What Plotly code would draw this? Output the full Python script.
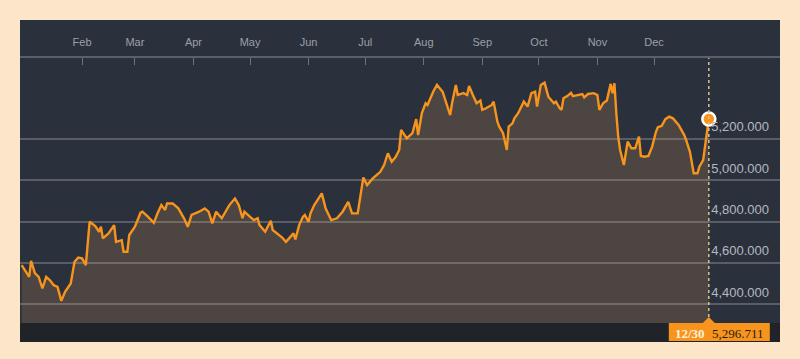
import pandas as pd
import plotly.graph_objects as go

# ---- data ----
year_start = "2015-01-01"
days = [-1, 3, 4, 6, 8, 10, 12, 14, 16, 18,
        20, 22, 25, 27, 29, 31, 33, 35, 38, 40,
        41, 42, 45, 48, 49, 52, 53, 55, 56, 59,
        62, 63, 66, 69, 71, 73, 75, 76, 79, 82,
        85, 87, 89, 93, 96, 98, 100, 102, 105, 108,
        109, 112, 114, 116, 117, 120, 122, 124, 125, 128,
        131, 132, 135, 137, 139, 141, 143, 144, 146, 148,
        149, 151, 152, 154, 158, 160, 163, 166, 169, 172,
        174, 177, 180, 182, 185, 189, 191, 193, 195, 197,
        199, 200, 203, 206, 208, 209, 211, 213, 214, 217,
        219, 222, 224, 226, 227, 229, 230, 233, 235, 236,
        238, 240, 242, 243, 245, 248, 249, 251, 252, 254,
        256, 257, 259, 260, 262, 265, 267, 269, 271, 272,
        274, 276, 278, 281, 282, 284, 285, 286, 288, 290,
        291, 293, 296, 297, 299, 302, 304, 305, 307, 309,
        311, 312, 313, 314, 315, 316, 318, 320, 322, 324,
        326, 327, 329, 331, 333, 335, 336, 338, 340, 342,
        344, 347, 350, 351, 353, 355, 357, 358, 360, 363]

values = [4589000, 4532000, 4610000, 4550000, 4532000, 4476000, 4532000, 4516000, 4492000, 4484000,
          4416000, 4460000, 4500000, 4605000, 4626000, 4622000, 4589000, 4799000, 4778000, 4751000,
          4775000, 4719000, 4743000, 4783000, 4702000, 4710000, 4654000, 4654000, 4735000, 4775000,
          4843000, 4848000, 4823000, 4794000, 4840000, 4880000, 4856000, 4888000, 4888000, 4864000,
          4816000, 4775000, 4832000, 4848000, 4864000, 4848000, 4791000, 4848000, 4816000, 4864000,
          4880000, 4912000, 4880000, 4816000, 4848000, 4823000, 4807000, 4816000, 4783000, 4751000,
          4804000, 4759000, 4735000, 4723000, 4702000, 4723000, 4743000, 4714000, 4783000, 4823000,
          4832000, 4799000, 4840000, 4880000, 4937000, 4864000, 4807000, 4816000, 4848000, 4896000,
          4840000, 4840000, 5014000, 4977000, 5009000, 5041000, 5074000, 5131000, 5090000, 5111000,
          5147000, 5244000, 5203000, 5228000, 5296000, 5219000, 5325000, 5373000, 5365000, 5429000,
          5462000, 5429000, 5373000, 5316000, 5373000, 5462000, 5413000, 5422000, 5413000, 5457000,
          5413000, 5373000, 5386000, 5341000, 5349000, 5365000, 5381000, 5284000, 5260000, 5228000,
          5147000, 5260000, 5276000, 5300000, 5325000, 5381000, 5357000, 5422000, 5429000, 5357000,
          5462000, 5473000, 5405000, 5373000, 5381000, 5349000, 5341000, 5397000, 5408000, 5424000,
          5408000, 5413000, 5418000, 5402000, 5418000, 5422000, 5413000, 5341000, 5373000, 5386000,
          5467000, 5422000, 5470000, 5325000, 5211000, 5147000, 5074000, 5187000, 5155000, 5155000,
          5211000, 5118000, 5114000, 5118000, 5163000, 5235000, 5257000, 5263000, 5296000, 5308000,
          5300000, 5268000, 5219000, 5195000, 5138000, 5034000, 5034000, 5066000, 5098000, 5296711]

month_ticks = ["2015-02-01", "2015-03-01", "2015-04-01", "2015-05-01", "2015-06-01", "2015-07-01",
               "2015-08-01", "2015-09-01", "2015-10-01", "2015-11-01", "2015-12-01"]
month_labels = ["Feb", "Mar", "Apr", "May", "Jun", "Jul", "Aug", "Sep", "Oct", "Nov", "Dec"]
y_ticks = [4400000, 4600000, 4800000, 5000000, 5200000]
y_labels = ["4,400.000", "4,600.000", "4,800.000", "5,000.000", "5,200.000"]
last_date_label = "12/30"
last_value_label = "5,296.711"

# ---- styles ----
PEACH = "#fde5c9"
NAVY = "#2b313c"
ORANGE = "#f7941d"
STRIP = "#202328"

dates = pd.Timestamp(year_start) + pd.to_timedelta(days, unit="D")
last_x = dates[-1]
last_y = values[-1]

fig = go.Figure()
fig.add_trace(go.Scatter(
    x=dates, y=values, mode="lines",
    line=dict(color=ORANGE, width=2.4),
    fill="tozeroy", fillcolor="rgba(230,160,90,0.18)",
    hoverinfo="skip",
))
fig.add_trace(go.Scatter(
    x=[last_x], y=[last_y], mode="markers",
    marker=dict(color=ORANGE, size=13, line=dict(color="white", width=2.5)),
    hoverinfo="skip",
))

H = 284.0
strip_top = 19 / H
fig.update_layout(
    width=800, height=359,
    margin=dict(l=20, r=20, t=58, b=17),
    paper_bgcolor=PEACH, plot_bgcolor=NAVY,
    showlegend=False, hovermode=False,
    font=dict(family="Liberation Sans, Arial, sans-serif"),
    xaxis=dict(
        side="top", range=["2014-12-30 03:00", "2016-02-05 17:00"],
        tickvals=month_ticks, ticktext=month_labels,
        ticks="inside", ticklen=7, tickwidth=1, tickcolor="#6b7280",
        tickfont=dict(size=11, color="#9aa0a8"),
        showgrid=False, zeroline=False,
        showline=True, linecolor="#59606b", linewidth=2,
        ticklabelstandoff=6,
    ),
    yaxis=dict(
        side="right", range=[4216900, 5592300],
        tickvals=y_ticks, ticktext=y_labels,
        ticklabelposition="inside top",
        tickfont=dict(size=13, color="#b4b8bf"),
        ticks="", showline=False, zeroline=False,
        showgrid=True, gridcolor="rgba(255,255,255,0.22)", gridwidth=2,
        ticklabelstandoff=8, ticklabelshift=-3,
    ),
    shapes=[
        dict(type="rect", xref="paper", yref="paper", x0=0, x1=1, y0=1, y1=1 + 38 / H,
             fillcolor=NAVY, line=dict(width=0), layer="below"),
        dict(type="rect", xref="paper", yref="paper", x0=0, x1=1, y0=0, y1=strip_top,
             fillcolor=STRIP, line=dict(width=0), layer="above"),
        dict(type="line", xref="x", yref="paper", x0=last_x, x1=last_x, y0=strip_top, y1=1,
             line=dict(color="#dcc08f", width=1.5, dash="dot"), layer="above"),
        dict(type="rect", xref="x", xsizemode="pixel", xanchor=last_x, x0=-40, x1=61,
             yref="paper", y0=1 / H, y1=strip_top,
             fillcolor=ORANGE, line=dict(width=0), layer="above"),
        dict(type="path", xref="x", xsizemode="pixel", xanchor=last_x,
             yref="paper", ysizemode="pixel", yanchor=strip_top,
             path="M-6,0 L0,6 L6,0 Z",
             fillcolor=ORANGE, line=dict(width=0), layer="above"),
    ],
    annotations=[
        dict(x=last_x, xref="x", y=9 / H, yref="paper", text="<b>" + last_date_label + "</b>",
             showarrow=False, xanchor="center", yanchor="middle", xshift=-19,
             font=dict(family="Liberation Serif, serif", size=13, color="#fff0dc")),
        dict(x=last_x, xref="x", y=9 / H, yref="paper", text=last_value_label,
             showarrow=False, xanchor="center", yanchor="middle", xshift=29,
             font=dict(family="Liberation Serif, serif", size=13, color="#2e1c0a")),
    ],
)

fig.write_html("out.html", config={"displayModeBar": False},
               post_script="document.body.style.margin='0';")
